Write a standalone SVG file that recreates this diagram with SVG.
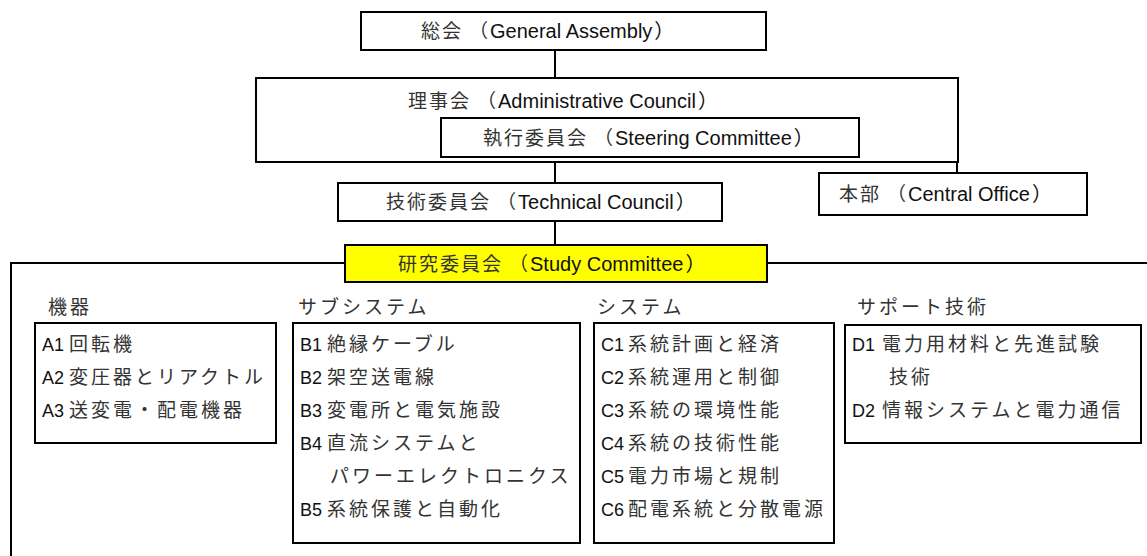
<svg xmlns="http://www.w3.org/2000/svg" width="1147" height="556" viewBox="0 0 1147 556">
<style>
.box{fill:#fff;stroke:#000;stroke-width:2}
.yel{fill:#ffff00;stroke:#000;stroke-width:2}
.ln{fill:none;stroke:#000;stroke-width:2}
text{font-family:"Liberation Sans","Noto Sans CJK JP",sans-serif;fill:#111}
.t{font-size:20px}
.i{font-size:18px}
.jh{font-family:"Noto Sans CJK JP",sans-serif;font-size:19px;letter-spacing:2px;fill:#333}
.jp{font-family:"Noto Sans CJK JP",sans-serif;font-size:19px;letter-spacing:3px;fill:#333}
</style>
<rect width="1147" height="556" fill="#fff"/>
<g id="connectors">
<line class="ln" x1="555" y1="50" x2="555" y2="78"/>
<line class="ln" x1="555" y1="162" x2="555" y2="183"/>
<line class="ln" x1="957" y1="162" x2="957" y2="173"/>
<line class="ln" x1="555" y1="221" x2="555" y2="245"/>
<polyline class="ln" points="345,263 11,263 11,556"/>
<line class="ln" x1="767" y1="263" x2="1147" y2="263"/>
</g>
<g id="general-assembly">
<rect class="box" x="361" y="12" width="405" height="38"/>
<text class="t" x="421" y="38"><tspan class="jh">総会</tspan><tspan class="jh" dx="6">（</tspan>General Assembly<tspan dx="2">）</tspan></text>
</g>
<g id="admin-council">
<rect class="box" x="256" y="78" width="702" height="84"/>
<text class="t" x="408" y="108"><tspan class="jh">理事会</tspan><tspan class="jh" dx="6">（</tspan>Administrative Council<tspan dx="2">）</tspan></text>
</g>
<g id="steering-committee">
<rect class="box" x="441" y="118" width="418" height="39"/>
<text class="t" x="483" y="145"><tspan class="jh">執行委員会</tspan><tspan class="jh" dx="6">（</tspan>Steering Committee<tspan dx="2">）</tspan></text>
</g>
<g id="technical-council">
<rect class="box" x="338" y="183" width="384" height="38"/>
<text class="t" x="386" y="209"><tspan class="jh">技術委員会</tspan><tspan class="jh" dx="6">（</tspan>Technical Council<tspan dx="2">）</tspan></text>
</g>
<g id="central-office">
<rect class="box" x="819" y="173" width="268" height="42"/>
<text class="t" x="839" y="201"><tspan class="jh">本部</tspan><tspan class="jh" dx="6">（</tspan>Central Office<tspan dx="2">）</tspan></text>
</g>
<g id="study-committee">
<rect class="yel" x="345" y="245" width="422" height="37"/>
<text class="t" x="398" y="271"><tspan class="jh">研究委員会</tspan><tspan class="jh" dx="6">（</tspan>Study Committee<tspan dx="2">）</tspan></text>
</g>
<g id="group-a">
<text class="jp" x="48" y="314">機器</text>
<rect class="box" x="35" y="323" width="241" height="120"/>
<text class="i" x="42" y="351">A1<tspan class="jp" x="69">回転機</tspan></text>
<text class="i" x="42" y="384">A2<tspan class="jp" x="69">変圧器とリアクトル</tspan></text>
<text class="i" x="42" y="417">A3<tspan class="jp" x="69">送変電・配電機器</tspan></text>
</g>
<g id="group-b">
<text class="jp" x="298" y="314">サブシステム</text>
<rect class="box" x="293" y="323" width="287" height="220"/>
<text class="i" x="300" y="351">B1<tspan class="jp" x="327">絶縁ケーブル</tspan></text>
<text class="i" x="300" y="384">B2<tspan class="jp" x="327">架空送電線</tspan></text>
<text class="i" x="300" y="417">B3<tspan class="jp" x="327">変電所と電気施設</tspan></text>
<text class="i" x="300" y="450">B4<tspan class="jp" x="327">直流システムと</tspan></text>
<text class="jp" x="330" y="483">パワーエレクトロニクス</text>
<text class="i" x="300" y="516">B5<tspan class="jp" x="327">系統保護と自動化</tspan></text>
</g>
<g id="group-c">
<text class="jp" x="597" y="314">システム</text>
<rect class="box" x="594" y="323" width="240" height="220"/>
<text class="i" x="601" y="351">C1<tspan class="jp" x="628">系統計画と経済</tspan></text>
<text class="i" x="601" y="384">C2<tspan class="jp" x="628">系統運用と制御</tspan></text>
<text class="i" x="601" y="417">C3<tspan class="jp" x="628">系統の環境性能</tspan></text>
<text class="i" x="601" y="450">C4<tspan class="jp" x="628">系統の技術性能</tspan></text>
<text class="i" x="601" y="483">C5<tspan class="jp" x="628">電力市場と規制</tspan></text>
<text class="i" x="601" y="516">C6<tspan class="jp" x="628">配電系統と分散電源</tspan></text>
</g>
<g id="group-d">
<text class="jp" x="857" y="314">サポート技術</text>
<rect class="box" x="845" y="325" width="296" height="118"/>
<text class="i" x="852" y="351">D1<tspan class="jp" x="882">電力用材料と先進試験</tspan></text>
<text class="jp" x="889" y="384">技術</text>
<text class="i" x="852" y="417">D2<tspan class="jp" x="882">情報システムと電力通信</tspan></text>
</g>
</svg>
